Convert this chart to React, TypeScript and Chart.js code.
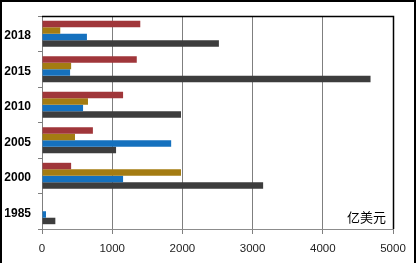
import React, { useEffect, useRef } from "react";
import { Chart, registerables } from "chart.js";

Chart.register(...registerables);

const categories = ["2018", "2015", "2010", "2005", "2000", "1985"];
const seriesRed = [1400, 1350, 1155, 725, 415, 0];
const seriesOlive = [260, 415, 655, 470, 1980, 0];
const seriesBlue = [640, 400, 585, 1840, 1155, 57];
const seriesGray = [2520, 4680, 1980, 1055, 3150, 190];
const xTicks = [0, 1000, 2000, 3000, 4000, 5000];
const unitLabel = "亿美元";

export default function App() {
  const ref = useRef<HTMLCanvasElement | null>(null);

  useEffect(() => {
    document.body.style.margin = "0";
    const canvas = ref.current!;
    const framePlugin = {
      id: "frame",
      afterDraw(chart: any) {
        const { ctx, chartArea } = chart;
        ctx.save();
        ctx.strokeStyle = "#000";
        ctx.lineWidth = 1.5;
        ctx.beginPath();
        ctx.moveTo(chartArea.left, chartArea.top + 0.5);
        ctx.lineTo(chartArea.right + 0.5, chartArea.top + 0.5);
        ctx.lineTo(chartArea.right + 0.5, chartArea.bottom);
        ctx.stroke();
        ctx.lineWidth = 2;
        ctx.beginPath();
        ctx.moveTo(1, 263);
        ctx.lineTo(1, 1);
        ctx.lineTo(415, 1);
        ctx.lineTo(415, 263);
        ctx.stroke();
        ctx.fillStyle = "#000";
        ctx.font = "13px 'Noto Sans CJK SC'";
        ctx.textAlign = "right";
        ctx.textBaseline = "middle";
        ctx.fillText(unitLabel, chartArea.right - 7, chartArea.bottom - 12);
        ctx.restore();
      },
    };
    const chart = new Chart(canvas, {
      type: "bar",
      data: {
        labels: categories,
        datasets: [
          { data: seriesRed, backgroundColor: "#A0363A" },
          { data: seriesOlive, backgroundColor: "#A47C12" },
          { data: seriesBlue, backgroundColor: "#1571BE" },
          { data: seriesGray, backgroundColor: "#3D3D3D" },
        ],
      },
      options: {
        indexAxis: "y",
        animation: false,
        responsive: false,
        maintainAspectRatio: false,
        layout: { padding: { top: 16, right: 24, left: 0, bottom: 0 } },
        datasets: { bar: { barPercentage: 1, categoryPercentage: 0.73 } },
        plugins: { legend: { display: false }, tooltip: { enabled: false } },
        scales: {
          x: {
            min: 0,
            max: 5000,
            afterBuildTicks(scale: any) {
              scale.ticks = xTicks.map((v) => ({ value: v }));
            },
            afterFit(scale: any) {
              scale.height = 34;
            },
            grid: {
              color: "#7f7f7f",
              lineWidth: 1,
              tickLength: 5,
              drawTicks: true,
            },
            border: { color: "#8c8c8c" },
            ticks: {
              color: "#222",
              padding: 8,
              font: { family: "'Liberation Sans'", size: 11.5 },
              maxRotation: 0,
              callback: (v: any) => String(v),
            },
          },
          y: {
            afterFit(scale: any) {
              scale.width = 42;
            },
            grid: {
              drawOnChartArea: false,
              drawTicks: true,
              tickLength: 4,
              color: "#7f7f7f",
            },
            border: { color: "#7f7f7f" },
            ticks: {
              color: "#000",
              padding: 7,
              labelOffset: 2,
              font: { family: "'Liberation Sans'", size: 12, weight: "bold", lineHeight: 1.0 },
            },
          },
        },
      },
      plugins: [framePlugin],
    } as any);
    return () => chart.destroy();
  }, []);

  return (
    <div style={{ position: "absolute", left: 0, top: 0, width: 417, height: 263, background: "#fff" }}>
      <canvas ref={ref} width={417} height={263} style={{ display: "block" }} />
    </div>
  );
}
